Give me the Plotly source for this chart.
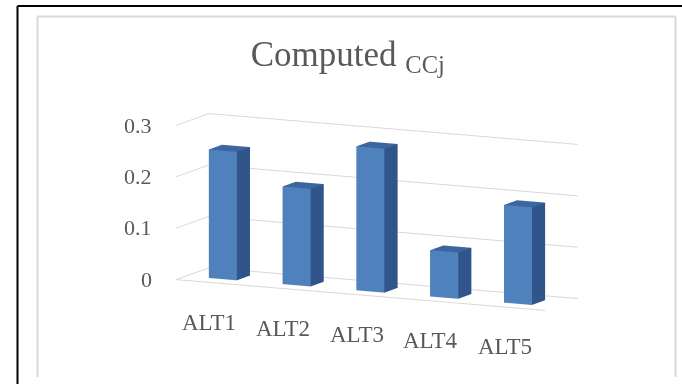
import math
import plotly.graph_objects as go

# Chart data
categories = ["ALT1", "ALT2", "ALT3", "ALT4", "ALT5"]
values = [0.25, 0.19, 0.28, 0.09, 0.19]
z_ticks = [0, 0.1, 0.2, 0.3]
z_tick_labels = ["0", "0.1", "0.2", "0.3"]

FONT = "Liberation Serif, Times New Roman, serif"
GREY_TEXT = "#595959"
GRID = "#d9d9d9"
FRONT = "#4f81bd"
SIDE = "#30558a"
TOP = "#3c66a0"

# Build one box (cuboid) per category from the values
bar_half_w = 0.19
bar_half_d = 0.2
xs, ys, zs, I, J, K, fc = [], [], [], [], [], [], []
for idx, v in enumerate(values):
    x0, x1 = idx - bar_half_w, idx + bar_half_w
    y0, y1 = -bar_half_d, bar_half_d
    base = len(xs)
    corners = [(x0, y0, 0), (x1, y0, 0), (x1, y1, 0), (x0, y1, 0),
               (x0, y0, v), (x1, y0, v), (x1, y1, v), (x0, y1, v)]
    for cx, cy, cz in corners:
        xs.append(cx); ys.append(cy); zs.append(cz)
    faces = [
        ((0, 1, 5), FRONT), ((0, 5, 4), FRONT),
        ((1, 2, 6), SIDE), ((1, 6, 5), SIDE),
        ((4, 5, 6), TOP), ((4, 6, 7), TOP),
        ((3, 7, 6), SIDE), ((3, 6, 2), SIDE),
        ((0, 4, 7), SIDE), ((0, 7, 3), SIDE),
        ((0, 3, 2), SIDE), ((0, 2, 1), SIDE),
    ]
    for (a, b, c), col in faces:
        I.append(base + a); J.append(base + b); K.append(base + c); fc.append(col)

bars = go.Mesh3d(
    x=xs, y=ys, z=zs, i=I, j=J, k=K,
    facecolor=fc, flatshading=True,
    lighting=dict(ambient=1.0, diffuse=0.0, specular=0.0, roughness=1.0, fresnel=0.0),
    hoverinfo="skip", showscale=False,
)

fig = go.Figure(bars)

# Category labels below the front floor edge, value labels left of the front-left edge
cat_font = dict(family=FONT, size=23, color=GREY_TEXT)
val_font = dict(family=FONT, size=22, color=GREY_TEXT)
scene_annotations = []
for idx, name in enumerate(categories):
    scene_annotations.append(dict(
        x=idx, y=-0.5, z=0, text=name, showarrow=False,
        xanchor="center", yanchor="middle", xshift=-4, yshift=-40, font=cat_font,
    ))
for tv, tl in zip(z_ticks, z_tick_labels):
    scene_annotations.append(dict(
        x=-0.5, y=-0.5, z=tv, text=tl, showarrow=False,
        xanchor="right", yanchor="middle", xshift=-23, font=val_font,
    ))

# Camera: turned ~26 deg about the vertical, looking down ~10 deg
yaw = math.radians(25.7)
pitch = math.radians(10.0)
dist = 2.2
eye = dict(
    x=dist * math.sin(yaw) * math.cos(pitch),
    y=-dist * math.cos(yaw) * math.cos(pitch),
    z=dist * math.sin(pitch),
)

axis_common = dict(
    showbackground=False, showspikes=False, title=dict(text=""),
    showticklabels=False, ticks="", zeroline=False,
)

fig.update_layout(
    width=682, height=384,
    margin=dict(l=0, r=0, t=0, b=0),
    paper_bgcolor="white",
    showlegend=False,
    title=dict(
        text="Computed <sub>CCj</sub>",
        font=dict(family=FONT, size=35, color=GREY_TEXT),
        x=0.51, xanchor="center", y=0.86, yanchor="middle",
    ),
    scene=dict(
        domain=dict(x=[0.1135, 0.9935], y=[0.001, 0.897]),
        aspectmode="manual",
        aspectratio=dict(x=2.38, y=0.44, z=0.91),
        xaxis=dict(axis_common, range=[-0.5, len(categories) - 0.5], showgrid=False,
                   showline=True, linecolor=GRID, linewidth=2),
        yaxis=dict(axis_common, range=[-0.5, 0.5], showgrid=False, showline=False),
        zaxis=dict(axis_common, range=[0, 0.3], tickvals=z_ticks, showgrid=True,
                   gridcolor=GRID, gridwidth=2, showline=False),
        camera=dict(
            eye=eye,
            center=dict(x=0, y=0, z=0),
            up=dict(x=0, y=0, z=1),
            projection=dict(type="orthographic"),
        ),
        annotations=scene_annotations,
    ),
    shapes=[
        # outer frame (top and left edges)
        dict(type="line", xref="paper", yref="paper", x0=17.5 / 682, x1=1, y0=1 - 6 / 384, y1=1 - 6 / 384,
             line=dict(color="black", width=2)),
        dict(type="line", xref="paper", yref="paper", x0=17.5 / 682, x1=17.5 / 682, y0=0, y1=1 - 6 / 384,
             line=dict(color="black", width=2)),
        # chart area border
        dict(type="line", xref="paper", yref="paper", x0=37.5 / 682, x1=675.5 / 682, y0=1 - 16.5 / 384, y1=1 - 16.5 / 384,
             line=dict(color=GRID, width=2)),
        dict(type="line", xref="paper", yref="paper", x0=37.5 / 682, x1=37.5 / 682, y0=1 - 377 / 384, y1=1 - 16.5 / 384,
             line=dict(color=GRID, width=2)),
        dict(type="line", xref="paper", yref="paper", x0=675.5 / 682, x1=675.5 / 682, y0=1 - 377 / 384, y1=1 - 16.5 / 384,
             line=dict(color=GRID, width=2)),
    ],
)

fig.write_html("out.html")
